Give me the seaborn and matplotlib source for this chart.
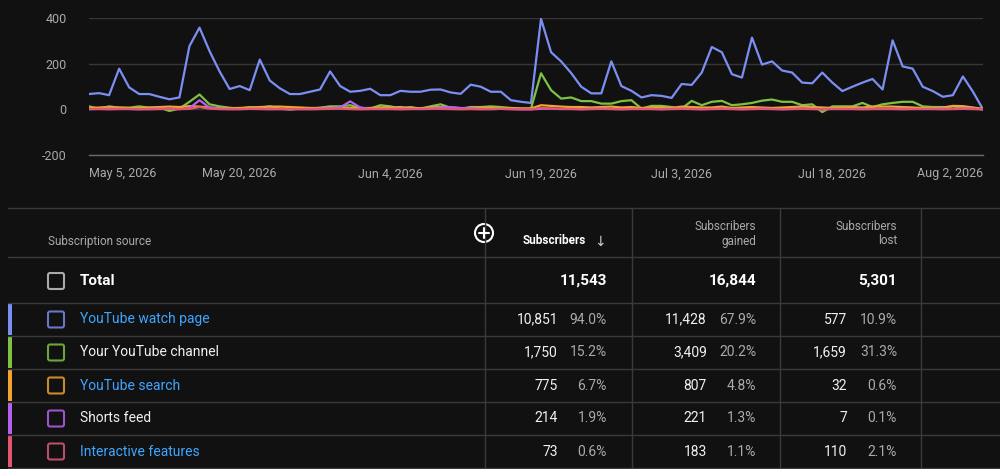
import pandas as pd
import matplotlib
matplotlib.use("Agg")
import matplotlib.pyplot as plt
from matplotlib.patches import FancyBboxPatch, Circle, Rectangle
import seaborn as sns

# daily net subscribers per source, May 5 .. Aug 2 2026
dates = pd.date_range("2026-05-05", "2026-08-02", freq="D")

watch_page = [67, 71, 62, 178, 96, 67, 67, 55, 44, 52, 277, 358, 255, 166, 89, 102, 84, 218, 126, 92, 67, 67, 77, 87, 166, 102, 77,
              81, 90, 62, 62, 81, 77, 77, 86, 87, 74, 68, 108, 99, 77, 77, 40, 33, 28, 396, 250, 210, 159, 99, 70, 70, 210, 102, 81, 52, 62,
              59, 50, 111, 107, 161, 273, 250, 154, 139, 314, 196, 210, 170, 161, 117, 114, 161, 117, 80, 99, 117, 133, 87, 302, 188, 178, 99, 80, 55, 62, 144,
              77, 0]
channel = [13, 3, 13, 7, 7, 13, 7, 7, -7, 3, 33, 65, 22, 13, 7, 3, 10, 7, 13, 3, -1, 3, 3, 7, 13, 13, 18,
           7, 3, 18, 13, 3, 10, 3, 13, 22, 7, 3, 10, 10, 13, 10, 6, 3, 3, 158, 84, 47, 52, 36, 36, 25, 25, 36, 40, 3, 15,
           15, 10, 3, 37, 18, 33, 37, 18, 22, 28, 38, 43, 33, 33, 18, 22, -12, 13, 13, 13, 28, 10, 22, 28, 33, 33, 13, 10, 10, 3, 10,
           6, 0]
search = [5, 8, 10, 8, 6, 5, 8, 10, 12, 10, 14, 12, 8, 5, 5, 6, 8, 10, 12, 12, 10, 8, 6, 6, 8, 5, 6,
          5, 6, 8, 8, 10, 6, 5, 8, 10, 8, 5, 6, 8, 6, 5, 5, 4, 4, 18, 15, 12, 10, 10, 8, 10, 12, 8, 10, 6, 8,
          8, 6, 12, 10, 8, 8, 12, 6, 8, 10, 8, 6, 8, 10, 12, 10, 8, 6, 8, 10, 8, 12, 12, 12, 10, 8, 6, 6, 8, 15, 14,
          8, 2]
shorts = [0, 2, 3, 2, 1, 0, 2, 3, 2, 1, 5, 40, 8, 3, 2, 1, 2, 3, 2, 1, 0, 1, 2, 3, 5, 8, 35,
          8, 2, 1, 2, 3, 2, 1, 2, 8, 10, 6, 4, 2, 1, 2, 1, 0, 0, 2, 3, 1, 2, 1, 2, 3, 2, 1, 2, 1, 2,
          1, 2, 3, 2, 1, 2, 3, 2, 1, 2, 3, 2, 1, 2, 3, 2, 1, 2, 1, 2, 3, 2, 1, 2, 3, 2, 1, 2, 3, 2, 4,
          3, 0]
interactive = [2, 1, 0, 1, 2, 1, 0, 1, 2, 1, 2, 10, 3, 1, 0, 1, 2, 1, 0, 1, 2, 1, 0, 1, 2, 3, 1,
               0, 1, 2, 1, 0, 1, 2, 3, 2, 1, 0, 1, 0, 1, 2, 1, 0, 0, 6, 4, 2, 1, 0, 1, 2, 1, 0, 1, 2, 1,
               0, 1, 2, 1, 0, 1, 2, 1, 0, 1, 2, 1, 0, 1, 2, 1, 0, 1, 2, 1, 0, 1, 2, 1, 0, 1, 2, 1, 0, 1, 2,
               1, 0]

sources = ["YouTube watch page", "Your YouTube channel", "YouTube search", "Shorts feed", "Interactive features"]
line_colors = ["#7b8ff2", "#7ec242", "#f4a42c", "#b561ee", "#e2566f"]
box_colors = ["#6777c8", "#6aa63c", "#c98a2c", "#9a55cc", "#b84f64"]
label_colors = ["#3ea6ff", "#f1f1f1", "#3ea6ff", "#f1f1f1", "#3ea6ff"]

subscribers = [10851, 1750, 775, 214, 73]
subscribers_pct = [94.0, 15.2, 6.7, 1.9, 0.6]
gained = [11428, 3409, 807, 221, 183]
gained_pct = [67.9, 20.2, 4.8, 1.3, 1.1]
lost = [577, 1659, 32, 7, 110]
lost_pct = [10.9, 31.3, 0.6, 0.1, 2.1]
totals = [11543, 16844, 5301]

tick_dates = ["2026-05-05", "2026-05-20", "2026-06-04", "2026-06-19", "2026-07-03", "2026-07-18", "2026-08-02"]
tick_labels = ["May 5, 2026", "May 20, 2026", "Jun 4, 2026", "Jun 19, 2026", "Jul 3, 2026", "Jul 18, 2026", "Aug 2, 2026"]
y_ticks = [-200, 0, 200, 400]

BG = "#111111"
GRID = "#363636"
sns.set_style("dark", {"axes.facecolor": BG, "figure.facecolor": BG})
plt.rcParams["font.family"] = ["Roboto", "DejaVu Sans"]

df = pd.DataFrame({
    "date": list(dates) * 5,
    "subs": watch_page + channel + search + shorts + interactive,
    "source": [s for s in sources for _ in dates],
})

fig = plt.figure(figsize=(10, 4.69), dpi=100)
ax = fig.add_axes([0.089, 1 - 155 / 469, 0.894, 137 / 469])
sns.lineplot(data=df, x="date", y="subs", hue="source", hue_order=sources,
             palette=line_colors, linewidth=1.6, legend=False, ax=ax)

ax.set_xlim(dates[0], dates[-1])
ax.set_ylim(-200, 400)
ax.set_yticks(y_ticks)
ax.set_yticklabels([str(v) for v in y_ticks], color="#aaaaaa", fontsize=9)
ax.set_xticks(pd.to_datetime(tick_dates))
ax.set_xticklabels(tick_labels, color="#aaaaaa", fontsize=9)
xl = ax.get_xticklabels()
xl[0].set_ha("left")
xl[-1].set_ha("right")
ax.tick_params(axis="y", length=0, pad=16)
ax.tick_params(axis="x", length=4, color="#666666", pad=5)
ax.set_xlabel("")
ax.set_ylabel("")
ax.yaxis.grid(True, color=GRID, linewidth=1)
ax.xaxis.grid(False)
for side in ["top", "left", "right"]:
    ax.spines[side].set_visible(False)
ax.spines["bottom"].set_color("#6a6a6a")
ax.spines["bottom"].set_linewidth(1)

# table drawn in pixel coordinates
tab = fig.add_axes([0, 0, 1, 1], zorder=-1)
tab.set_xlim(0, 1000)
tab.set_ylim(469, 0)
tab.axis("off")

line_c = "#3a3a3a"
row_lines = [208, 257, 303, 336, 369, 402, 435, 468]
for y in row_lines:
    tab.plot([8, 1000], [y, y], color=line_c, lw=1)
for x in [485, 632, 780, 921]:
    tab.plot([x, x], [208, 469], color=line_c, lw=1)

muted = "#aaaaaa"
tab.text(48, 241, "Subscription source", color=muted, fontsize=8.5, va="center")
tab.add_patch(Circle((484, 233), 9, facecolor=BG, edgecolor="white", lw=1.5))
tab.plot([479, 489], [233, 233], color="white", lw=1.5)
tab.plot([484, 484], [228, 238], color="white", lw=1.5)
tab.text(586, 241, "Subscribers", color="white", fontsize=8.5, fontweight="bold", ha="right", va="center")
tab.text(600, 242, "\u2193", color="#cccccc", fontsize=10, ha="center", va="center", family=["DejaVu Sans"])
for xr, second in [(756, "gained"), (897, "lost")]:
    tab.text(xr, 226, "Subscribers", color=muted, fontsize=8.5, ha="right", va="center")
    tab.text(xr, 241, second, color=muted, fontsize=8.5, ha="right", va="center")

# total row
tab.add_patch(FancyBboxPatch((48, 273), 16, 16, boxstyle="round,pad=0,rounding_size=2",
                             facecolor="none", edgecolor="#aaaaaa", lw=1.5))
tab.text(80, 281, "Total", color="white", fontsize=11, fontweight="bold", va="center")
for xr, val in zip([607, 756, 897], totals):
    tab.text(xr, 281, f"{val:,}", color="white", fontsize=11, fontweight="bold", ha="right", va="center")

# source rows
for i, src in enumerate(sources):
    top, bot = row_lines[i + 2], row_lines[i + 3]
    yc = (top + bot) / 2
    tab.add_patch(Rectangle((8, top + 1), 4, bot - top - 2, color=line_colors[i], lw=0))
    tab.add_patch(FancyBboxPatch((48, yc - 8), 16, 16, boxstyle="round,pad=0,rounding_size=2",
                                 facecolor="none", edgecolor=box_colors[i], lw=1.5))
    tab.text(80, yc, src, color=label_colors[i], fontsize=10, va="center")
    cols = [(558, 607, subscribers[i], subscribers_pct[i]),
            (707, 756, gained[i], gained_pct[i]),
            (847, 897, lost[i], lost_pct[i])]
    for xn, xp, n, p in cols:
        tab.text(xn, yc, f"{n:,}", color="#f1f1f1", fontsize=10, ha="right", va="center")
        tab.text(xp, yc, f"{p:.1f}%", color=muted, fontsize=10, ha="right", va="center")

fig.savefig("out.png", dpi=100, facecolor=BG)
